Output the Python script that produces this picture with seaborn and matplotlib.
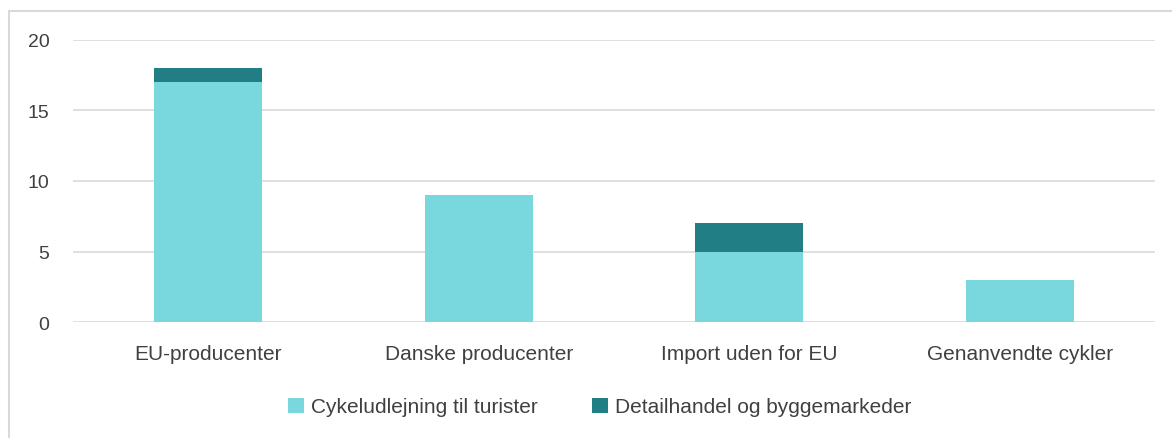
import matplotlib
matplotlib.use("Agg")
import matplotlib.pyplot as plt
import seaborn as sns
import pandas as pd
from matplotlib.lines import Line2D
from matplotlib.patches import Patch

categories = ["EU-producenter", "Danske producenter", "Import uden for EU", "Genanvendte cykler"]
series_names = ["Cykeludlejning til turister", "Detailhandel og byggemarkeder"]
cykeludlejning = [17, 9, 5, 3]
detailhandel = [1, 0, 2, 0]
yticks = [0, 5, 10, 15, 20]

light = "#78D8DE"
dark = "#217E84"

sns.set_theme(style="white")
plt.rcParams['font.family'] = ['Liberation Sans', 'DejaVu Sans']

W, H, DPI = 1172, 439, 100
fig = plt.figure(figsize=(W / DPI, H / DPI), dpi=DPI)
ax = fig.add_axes([73 / W, 1 - 323 / H, (1155 - 73) / W, (323 - 41) / H])

totals = [a + b for a, b in zip(cykeludlejning, detailhandel)]
df_tot = pd.DataFrame({"cat": categories, "val": totals})
df_low = pd.DataFrame({"cat": categories, "val": cykeludlejning})

sns.barplot(data=df_tot, x="cat", y="val", color=dark, width=0.4, ax=ax,
            saturation=1, linewidth=0, zorder=2)
sns.barplot(data=df_low, x="cat", y="val", color=light, width=0.4, ax=ax,
            saturation=1, linewidth=0, zorder=3)

ax.set_ylim(0, 20)
ax.set_xlim(-0.5, 3.5)
ax.set_yticks(yticks)
ax.set_yticklabels([str(t) for t in yticks])
ax.yaxis.grid(True, color="#D9D9D9", linewidth=1.2, zorder=0)
ax.set_axisbelow(True)
for s in ax.spines.values():
    s.set_visible(False)
ax.set_xlabel("")
ax.set_ylabel("")
ax.tick_params(axis="y", length=0, pad=17, labelsize=14, labelcolor="#404040")
ax.tick_params(axis="x", length=0, pad=16, labelsize=15, labelcolor="#404040")

handles = [Patch(facecolor=light, edgecolor="none"), Patch(facecolor=dark, edgecolor="none")]
fig.legend(handles, series_names, loc="center", bbox_to_anchor=(600 / W, 1 - 408 / H),
           ncol=2, frameon=False, handlelength=0.75, handleheight=0.75,
           handletextpad=0.35, columnspacing=2.6,
           prop={"family": ["Liberation Sans", "DejaVu Sans"], "size": 15})
for t in fig.legends[0].get_texts():
    t.set_color("#404040")

# outer chart border (top and left visible)
fig.add_artist(Line2D([8.5 / W, 1.0], [1 - 11.5 / H, 1 - 11.5 / H], transform=fig.transFigure,
                      color="#D9D9D9", linewidth=1.5))
fig.add_artist(Line2D([8.5 / W, 8.5 / W], [0, 1 - 11.5 / H], transform=fig.transFigure,
                      color="#D9D9D9", linewidth=1.5))

fig.savefig("out.png", dpi=DPI, facecolor="white")
